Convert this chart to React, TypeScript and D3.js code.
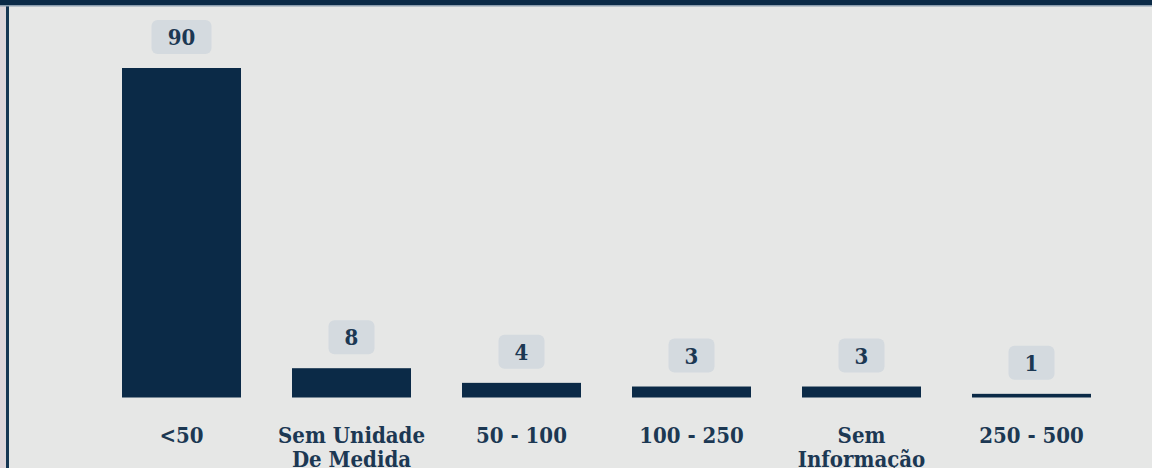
import React from "react";
import * as d3 from "d3";

const categories: string[][] = [
  ["<50"],
  ["Sem Unidade", "De Medida"],
  ["50 - 100"],
  ["100 - 250"],
  ["Sem", "Informação"],
  ["250 - 500"],
];
const values: number[] = [90, 8, 4, 3, 3, 1];

const W = 1152;
const H = 468;
const BAR = "#0b2a47";
const BG = "#e6e7e6";
const TEXT = "#1c3853";
const BOX = "#d4dadf";
const FONT = "'DejaVu Serif Condensed', 'DejaVu Serif', serif";

export default function App() {
  const keys = categories.map((c) => c.join(" "));
  const x = d3
    .scaleBand<string>()
    .domain(keys)
    .range([96.5, 1116.5])
    .paddingInner(0.3)
    .paddingOuter(0.15);
  const y = d3.scaleLinear().domain([0, 90]).range([397.5, 68]);

  return (
    <svg
      width={W}
      height={H}
      style={{ position: "absolute", left: 0, top: 0, display: "block" }}
    >
      <rect x={0} y={0} width={W} height={H} fill={BG} />
      <rect x={0} y={0} width={6} height={H} fill="#ddd5da" />
      <rect x={6} y={0} width={3} height={H} fill="#163552" />
      <rect x={0} y={0} width={W} height={5} fill={BAR} />
      <rect x={0} y={5} width={W} height={1.5} fill="#8a9cad" />
      {values.map((v, i) => {
        const k = keys[i];
        const bx = x(k) as number;
        const bw = x.bandwidth();
        const cx = bx + bw / 2;
        const top = y(v);
        const label = String(v);
        const boxW = label.length > 1 ? 60 : 46;
        const boxH = 34;
        const boxBottom = top - 14;
        return (
          <g key={k}>
            <rect x={bx} y={top} width={bw} height={y(0) - top} fill={BAR} />
            <rect
              x={cx - boxW / 2}
              y={boxBottom - boxH}
              width={boxW}
              height={boxH}
              rx={6}
              fill={BOX}
            />
            <text
              x={cx}
              y={boxBottom - boxH / 2 + 8}
              textAnchor="middle"
              fontFamily={FONT}
              fontWeight="bold"
              fontSize={22}
              fill={TEXT}
            >
              {label}
            </text>
            {categories[i].map((line, j) => (
              <text
                key={j}
                x={cx}
                y={443 + j * 24}
                textAnchor="middle"
                fontFamily={FONT}
                fontWeight="bold"
                fontSize={22}
                fill={TEXT}
              >
                {line}
              </text>
            ))}
          </g>
        );
      })}
    </svg>
  );
}
